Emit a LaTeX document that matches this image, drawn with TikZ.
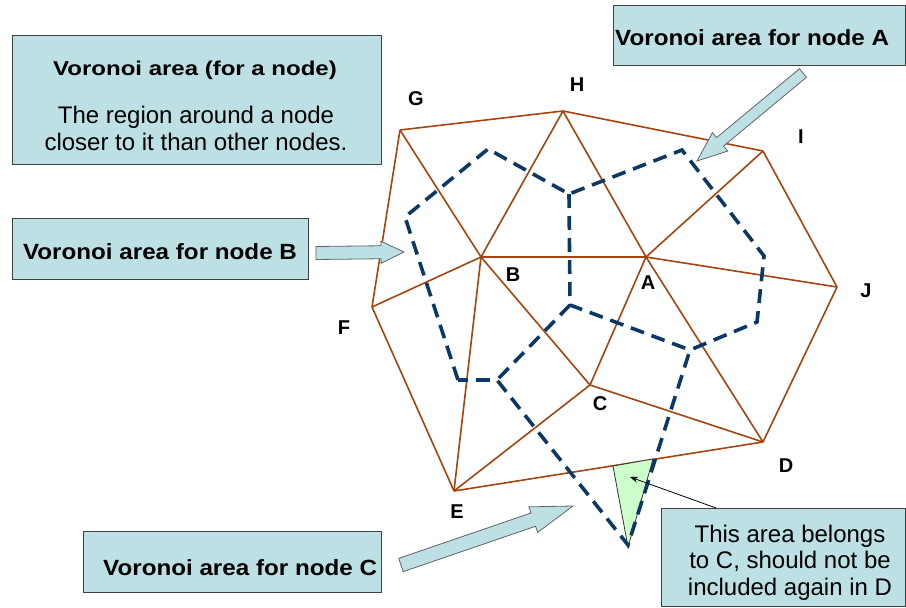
\documentclass[tikz,border=0pt]{standalone}
\usepackage{fontspec}
\setmainfont{Liberation Sans}
\newfontfamily\widesf[FakeStretch=1.1]{Liberation Sans}
\newfontfamily\titlesf[FakeStretch=1.2]{Liberation Sans}
\usetikzlibrary{calc,arrows.meta}

\definecolor{edgebrown}{RGB}{165,68,14}
\definecolor{cellblue}{RGB}{12,56,102}
\definecolor{notefill}{RGB}{188,224,227}
\definecolor{noteline}{RGB}{64,64,64}
\definecolor{arrowline}{RGB}{100,100,100}
\definecolor{areagreen}{RGB}{204,255,204}

% block arrow: tail, tip, half shaft width, half head width, head length
\newcommand\blockarrow[5]{%
  \coordinate (ba-m) at ($(#2)!#5!(#1)$);
  \draw[barrow] ($(#1)!#3!90:(#2)$) -- ($(ba-m)!#3!90:(#2)$) -- ($(ba-m)!#4!90:(#2)$)
    -- (#2) -- ($(ba-m)!#4!-90:(#2)$) -- ($(ba-m)!#3!-90:(#2)$) -- ($(#1)!#3!-90:(#2)$) -- cycle;}

\begin{document}
\begin{tikzpicture}[x=1pt,y=-1pt,
  vtx/.style={coordinate},
  vlabel/.style={font=\bfseries\fontsize{20}{24}\selectfont, inner sep=0pt},
  edge/.style={draw=edgebrown, line width=1.6pt},
  cell/.style={draw=cellblue, line width=3.6pt, dash pattern=on 14pt off 8pt, line join=miter},
  note/.style={draw=noteline, fill=notefill, line width=1pt, rectangle, inner sep=0pt, outer sep=0pt},
  notetext/.style={inner sep=0pt, anchor=base, font=\fontsize{24}{27}\selectfont},
  boxtitle/.style={inner sep=0pt, anchor=base west, font=\widesf\bfseries\fontsize{22}{26}\selectfont},
  barrow/.style={draw=arrowline, fill=notefill, line width=0.8pt, line join=miter},
  area/.style={draw=black!80, fill=areagreen, line width=0.8pt}]

\useasboundingbox (0,0) rectangle (906,608);

% mesh nodes
\node[vtx] (A) at (646,257) {};
\node[vtx] (B) at (481,257) {};
\node[vtx] (C) at (590,385) {};
\node[vtx] (D) at (763,442) {};
\node[vtx] (E) at (454,491) {};
\node[vtx] (F) at (372,307) {};
\node[vtx] (G) at (400,130) {};
\node[vtx] (H) at (563,111) {};
\node[vtx] (I) at (763,151) {};
\node[vtx] (J) at (837,287) {};

% triangulation
\foreach \a/\b in {G/H,H/I,I/J,J/D,D/E,E/F,F/G,G/B,H/B,H/A,B/A,I/A,A/J,A/D,A/C,B/F,B/E,B/C,C/E,C/D}
  \draw[edge] (\a) -- (\b);

% node letters
\node[vlabel] (lA) at (648,283) {A};
\node[vlabel] (lB) at (513,275) {B};
\node[vlabel] (lC) at (600,404) {C};
\node[vlabel] (lD) at (786,466) {D};
\node[vlabel] (lE) at (457,512) {E};
\node[vlabel] (lF) at (344,328) {F};
\node[vlabel] (lG) at (416,99) {G};
\node[vlabel] (lH) at (577,85) {H};
\node[vlabel] (lI) at (801,137) {I};
\node[vlabel] (lJ) at (866,291) {J};

% overlapping piece between the cells of C and D
\coordinate (g1) at (613,466);
\coordinate (g2) at (653,459);
\coordinate (g3) at (628,547);
\draw[area] (g1) -- (g2) -- (g3) -- cycle;

% Voronoi cell boundaries
\coordinate (v1) at (458,380);
\coordinate (v2) at (405,217);
\coordinate (v3) at (488,149);
\coordinate (v4) at (569,194);
\coordinate (v5) at (682,150);
\coordinate (v6) at (764,256);
\coordinate (v7) at (757,322);
\coordinate (v8) at (690,350);
\coordinate (v9) at (628,545);
\coordinate (v10) at (497,380);
\coordinate (v11) at (570,305);
\draw[cell] (v1) -- (v2) -- (v3) -- (v4) -- (v5) -- (v6) -- (v7) -- (v8) -- (v9) -- (v10) -- (v1);
\draw[cell] (v4) -- (v11) -- (v8);
\draw[cell] (v11) -- (v10);

% text boxes
\node[note, minimum width=369pt, minimum height=129pt] (defbox) at (196.5,99.5) {};
\node[notetext, font=\titlesf\bfseries\fontsize{20}{24}\selectfont] (deftitle) at (195,75) {Voronoi area (for a node)};
\node[notetext] (defline1) at (196,123) {The region around a node};
\node[notetext] (defline2) at (196,150) {closer to it than other nodes.};

\node[note, minimum width=292pt, minimum height=60pt] (boxA) at (759,35) {};
\node[boxtitle] (textA) at (615,45) {Voronoi area for node A};

\node[note, minimum width=296pt, minimum height=61pt] (boxB) at (160,248.5) {};
\node[boxtitle, anchor=base] (textB) at (160,259) {Voronoi area for node B};

\node[note, minimum width=298pt, minimum height=61pt] (boxC) at (232,561.5) {};
\node[boxtitle] (textC) at (103,575) {Voronoi area for node C};

\node[note, minimum width=244pt, minimum height=98pt] (boxD) at (783,557) {};
\node[notetext] (textD1) at (790,542) {This area belongs};
\node[notetext] (textD2) at (790,568) {to C, should not be};
\node[notetext] (textD3) at (790,595) {included again in D};

% pointer from the note to the overlapping piece
\coordinate (ptrfrom) at (716,508);
\coordinate (ptrto) at (630,477);
\draw[black, line width=0.8pt, -{Stealth[length=8pt,width=6pt]}] (ptrfrom) -- (ptrto);

% block arrows
\coordinate (arAtail) at (803,73);
\coordinate (arAtip) at (697,161);
\blockarrow{arAtail}{arAtip}{5.5pt}{12pt}{30pt}
\coordinate (arBtail) at (316,253);
\coordinate (arBtip) at (404,252);
\blockarrow{arBtail}{arBtip}{6.5pt}{11pt}{23pt}
\coordinate (arCtail) at (401,565);
\coordinate (arCtip) at (573,506);
\blockarrow{arCtail}{arCtip}{7pt}{13.5pt}{42pt}
\end{tikzpicture}
\end{document}
